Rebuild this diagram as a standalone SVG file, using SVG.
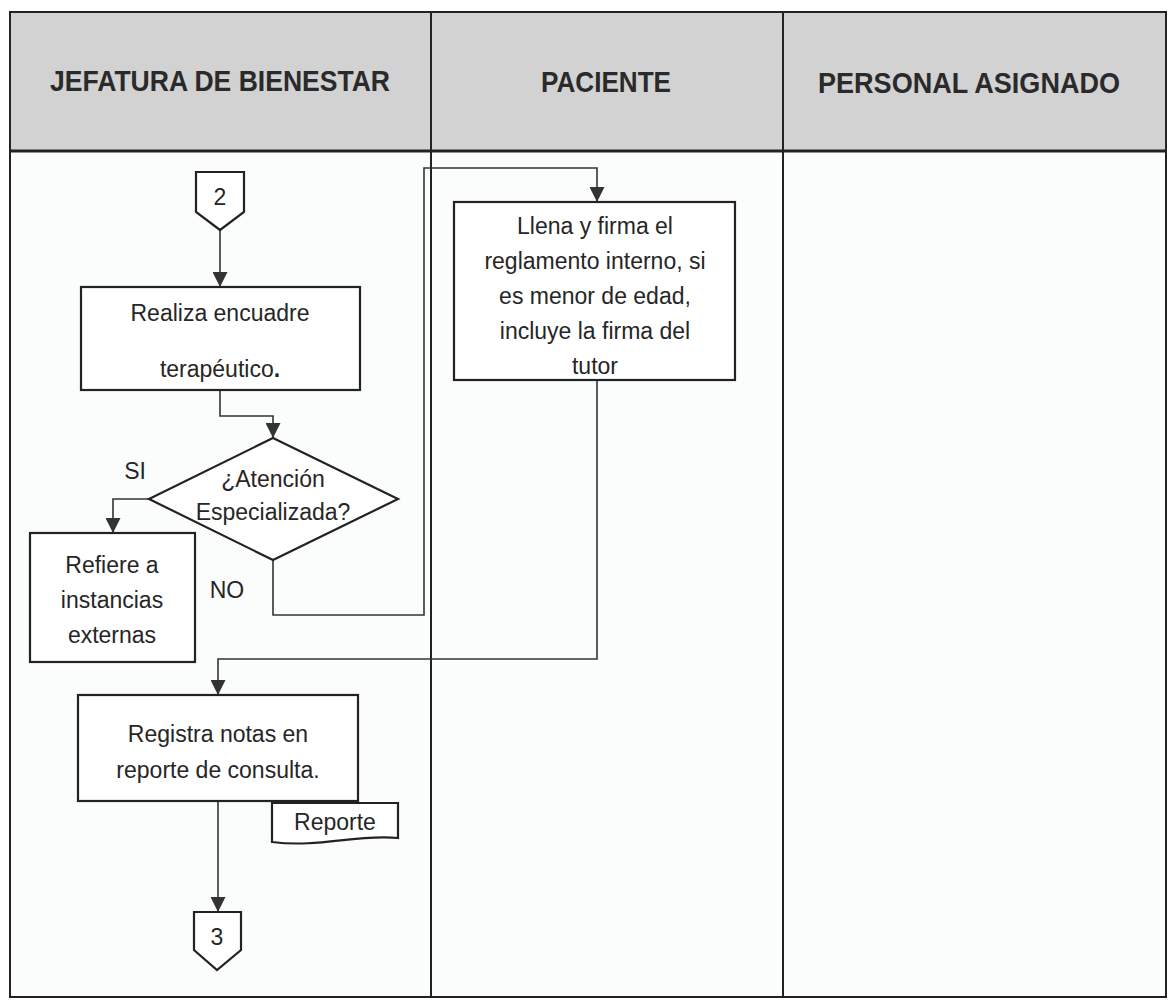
<svg xmlns="http://www.w3.org/2000/svg" width="1169" height="1001" viewBox="0 0 1169 1001">
<style>
.hdr{font-family:"Liberation Sans",Arial,sans-serif;font-weight:bold;font-size:30px;fill:#2a2a2a;text-anchor:middle}
.t{font-family:"Liberation Sans",Arial,sans-serif;font-size:23px;fill:#262626;text-anchor:middle}
.shape{fill:#ffffff;stroke:#222;stroke-width:2.2}
.grid{stroke:#222;stroke-width:2;fill:none}
.conn{fill:none;stroke:#333;stroke-width:1.6}
</style>
<defs>
<marker id="arr" viewBox="0 0 10 10" refX="10" refY="5" markerWidth="15" markerHeight="15" markerUnits="userSpaceOnUse" orient="auto">
<path d="M0,0 L10,5 L0,10 z" fill="#333"/>
</marker>
</defs>
<rect x="0" y="0" width="1169" height="1001" fill="#ffffff"/>
<g id="table">
<rect x="10" y="12" width="1156" height="139" fill="#d2d2d2"/>
<rect x="10" y="151" width="1156" height="846" fill="#fbfdfd"/>
<rect x="10" y="12" width="1156" height="985" class="grid"/>
<line x1="10" y1="151" x2="1166" y2="151" stroke="#222" stroke-width="3"/>
<line x1="431" y1="12" x2="431" y2="997" class="grid"/>
<line x1="783" y1="12" x2="783" y2="997" class="grid"/>
<text class="hdr" x="220" y="91" textLength="340" lengthAdjust="spacingAndGlyphs">JEFATURA DE BIENESTAR</text>
<text class="hdr" x="606" y="92" textLength="130" lengthAdjust="spacingAndGlyphs">PACIENTE</text>
<text class="hdr" x="969" y="93" textLength="302" lengthAdjust="spacingAndGlyphs">PERSONAL ASIGNADO</text>
</g>
<g id="connectors">
<path class="conn" d="M220,230 V287" marker-end="url(#arr)"/>
<path class="conn" d="M220,390 V416 H273 V438" marker-end="url(#arr)"/>
<path class="conn" d="M149,499 H113 V533" marker-end="url(#arr)"/>
<path class="conn" d="M273,560 V615 H424 V168 H597 V202" marker-end="url(#arr)"/>
<path class="conn" d="M597,380 V659 H218 V695" marker-end="url(#arr)"/>
<path class="conn" d="M218,801 V912" marker-end="url(#arr)"/>
<text class="t" x="135" y="479">SI</text>
<text class="t" x="227" y="598">NO</text>
</g>
<g id="conn2">
<polygon class="shape" points="196,172 244,172 244,212 220,230 196,212"/>
<text class="t" x="220" y="205">2</text>
</g>
<g id="realiza">
<rect class="shape" x="81" y="287" width="279" height="103"/>
<text class="t" x="220" y="321">Realiza encuadre</text>
<text class="t" x="220" y="377">terapéutico<tspan font-weight="bold">.</tspan></text>
</g>
<g id="decision">
<polygon class="shape" points="273,438 398,499 273,560 149,499"/>
<text class="t" x="273" y="487">¿Atención</text>
<text class="t" x="273" y="520">Especializada?</text>
</g>
<g id="refiere">
<rect class="shape" x="30" y="533" width="165" height="129"/>
<text class="t" x="112" y="573">Refiere a</text>
<text class="t" x="112" y="608">instancias</text>
<text class="t" x="112" y="643">externas</text>
</g>
<g id="llena">
<rect class="shape" x="454" y="202" width="281" height="178"/>
<text class="t" x="595" y="234">Llena y firma el</text>
<text class="t" x="595" y="269">reglamento interno, si</text>
<text class="t" x="595" y="304">es menor de edad,</text>
<text class="t" x="595" y="339">incluye la firma del</text>
<text class="t" x="595" y="374">tutor</text>
</g>
<g id="registra">
<rect class="shape" x="78" y="695" width="280" height="106"/>
<text class="t" x="218" y="742">Registra notas en</text>
<text class="t" x="218" y="778">reporte de consulta.</text>
</g>
<g id="reporte">
<path class="shape" d="M272,803 H398 V838 C355,834 320,848 272,842 Z"/>
<text class="t" x="335" y="830">Reporte</text>
</g>
<g id="conn3">
<polygon class="shape" points="194,912 241,912 241,950 217,970 194,950"/>
<text class="t" x="217" y="945">3</text>
</g>
</svg>
